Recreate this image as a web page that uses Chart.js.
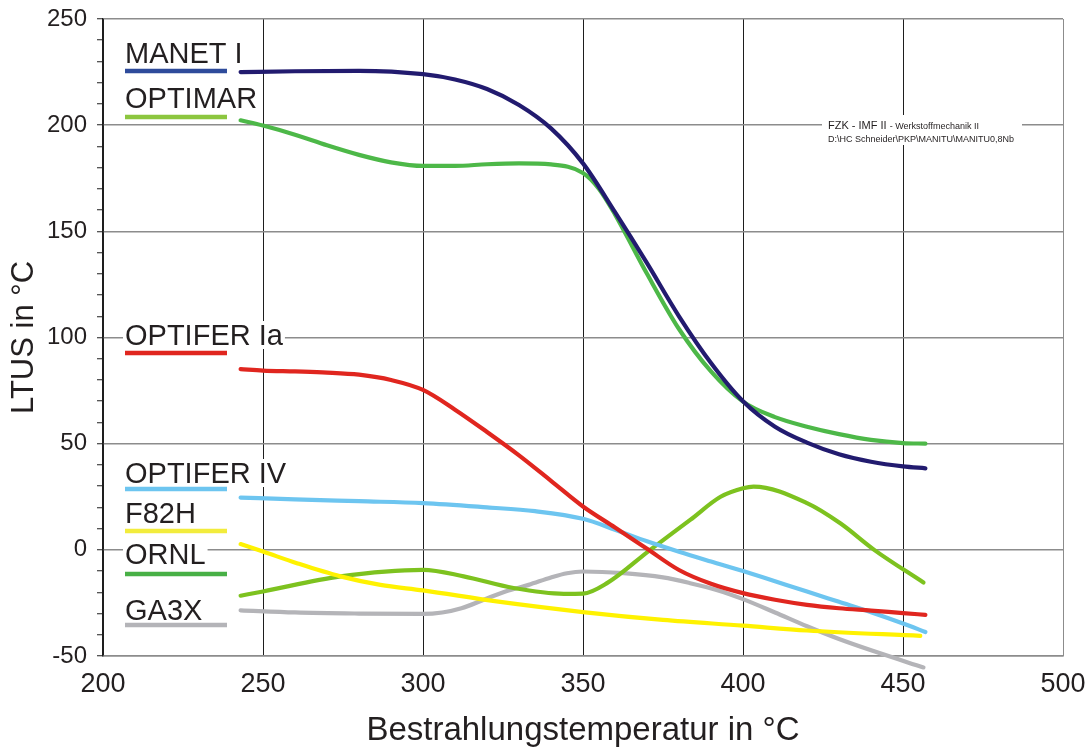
<!DOCTYPE html>
<html>
<head>
<meta charset="utf-8">
<title>LTUS</title>
<script src="https://cdn.jsdelivr.net/npm/chart.js@4.4.1/dist/chart.umd.min.js"></script>
<style>
  html, body { margin: 0; padding: 0; background: #fff; }
</style>
</head>
<body>
<canvas id="ltus" width="1090" height="752"></canvas>
<script>
// irradiation temperature (x) and LTUS (y) per material
const manetT = [243, 260, 280, 300, 310, 320, 330, 340, 350, 360, 370, 380, 390, 400, 410, 420, 430, 440, 450, 457];
const manetV = [225, 225.4, 225.6, 224, 221.5, 217, 209.5, 198.5, 182, 159, 135, 110, 88, 70, 58, 50.5, 45, 41.5, 39.3, 38.4];

const optimarT = [243, 250, 260, 270, 280, 290, 300, 310, 320, 330, 340, 350, 355, 360, 370, 380, 390, 400, 410, 420, 430, 440, 450, 457];
const optimarV = [202.3, 199.8, 195.5, 190.5, 186, 182.5, 180.8, 180.8, 181.6, 182, 181.5, 177.5, 170, 158, 130, 104, 84, 69.8, 62.5, 58, 54.5, 51.8, 50.3, 50];

const optiferIaT = [243, 250, 260, 270, 280, 290, 300, 310, 320, 330, 340, 350, 360, 370, 380, 390, 400, 410, 420, 430, 440, 450, 457];
const optiferIaV = [85.1, 84.4, 84, 83.5, 82.5, 80, 75.3, 66, 55.5, 44.5, 32.5, 20.4, 10.5, 0.5, -9.5, -16, -20.4, -23.5, -25.9, -27.5, -28.6, -29.8, -30.6];

const optiferIVT = [243, 260, 280, 300, 320, 335, 350, 360, 370, 380, 390, 400, 410, 420, 430, 440, 450, 457];
const optiferIVV = [24.6, 23.8, 22.9, 22, 20, 18.2, 14.6, 9.5, 4, -0.9, -5.5, -10, -14.8, -19.6, -24.5, -29.4, -34.7, -38.7];

const f82hT = [243, 250, 260.6, 274.2, 286.7, 300, 323, 350, 375, 400, 420, 455.4];
const f82hV = [2.7, -0.8, -6.3, -12.5, -16.5, -19.1, -24.3, -29.3, -33, -35.7, -38, -40.5];

const ornlT = [243, 250, 274.2, 300, 312.7, 328.3, 344, 350, 357.5, 371, 383.5, 393, 400, 403.3, 420, 430.4, 441, 456.4];
const ornlV = [-21.6, -19.6, -12.5, -9.4, -12.5, -18, -20.7, -20.6, -15.7, 0, 14.1, 25, 29, 29.8, 22, 12.5, 0, -15.4];

const ga3xT = [243, 260, 280, 300, 306, 312, 319, 326, 333, 340, 345, 350, 362.7, 375, 383.5, 392, 400, 410, 420, 430, 441, 456.4];
const ga3xV = [-28.5, -29.5, -30, -30.2, -29.5, -27.5, -23.5, -19.5, -16.5, -13, -11, -10.2, -11, -13, -15.7, -19, -23.2, -29.5, -36, -42, -47.8, -55.4];

const xTicks = [200, 250, 300, 350, 400, 450, 500];
const yTicks = [-50, 0, 50, 100, 150, 200, 250];

const names = ['MANET I', 'OPTIMAR', 'OPTIFER Ia', 'OPTIFER IV', 'F82H', 'ORNL', 'GA3X'];
const lineColors = ['#221b6f', '#4db848', '#e0261f', '#6dc5f0', '#fff200', '#7dc21f', '#b4b4b8'];
const keyColors  = ['#2e4b9b', '#8cc63f', '#e0261f', '#6dc5f0', '#f2ec3c', '#48b046', '#b4b4b8'];

const FONT = "'Liberation Sans', Arial, Helvetica, sans-serif";

function pts(xs, ys) {
    return xs.map(function (x, i) { return { x: x, y: ys[i] }; });
}

const series = [
    pts(manetT, manetV),
    pts(optimarT, optimarV),
    pts(optiferIaT, optiferIaV),
    pts(optiferIVT, optiferIVV),
    pts(f82hT, f82hV),
    pts(ornlT, ornlV),
    pts(ga3xT, ga3xV)
];

// key on the left: text plus a short coloured bar under it
const keyRows = [
    { base: 63, bar: 71 },
    { base: 108, bar: 117 },
    { base: 345, bar: 353 },
    { base: 483, bar: 489 },
    { base: 523, bar: 531 },
    { base: 564, bar: 574 },
    { base: 620, bar: 625 }
];

const keyPlugin = {
    id: 'materialKey',
    afterDatasetsDraw(chart) {
        const ctx = chart.ctx;
        ctx.save();
        ctx.font = '29px ' + FONT;
        ctx.textBaseline = 'alphabetic';
        names.forEach(function (name, i) {
            const row = keyRows[i];
            const w = ctx.measureText(name).width;
            ctx.fillStyle = '#fff';
            ctx.fillRect(123, row.base - 24, w + 4, 28);
            ctx.fillStyle = '#231f20';
            ctx.fillText(name, 125, row.base);
            ctx.strokeStyle = keyColors[i];
            ctx.lineWidth = 4.5;
            ctx.lineCap = 'butt';
            ctx.beginPath();
            ctx.moveTo(125, row.bar);
            ctx.lineTo(227, row.bar);
            ctx.stroke();
        });

        // file stamp top right
        ctx.fillStyle = '#fff';
        ctx.fillRect(822, 115, 200, 30);
        ctx.fillStyle = '#231f20';
        ctx.font = '11px ' + FONT;
        ctx.fillText('FZK - IMF II', 828, 129);
        const w1 = ctx.measureText('FZK - IMF II ').width;
        ctx.font = '9px ' + FONT;
        ctx.fillText('- Werkstoffmechanik II', 828 + w1, 129);
        ctx.fillText('D:\\HC Schneider\\PKP\\MANITU\\MANITU0,8Nb', 828, 142);
        ctx.restore();
    }
};

new Chart(document.getElementById('ltus'), {
    type: 'line',
    data: {
        datasets: series.map(function (data, i) {
            return {
                label: names[i],
                data: data,
                borderColor: lineColors[i],
                borderWidth: 4.2,
                pointRadius: 0,
                fill: false,
                cubicInterpolationMode: 'monotone',
                borderCapStyle: 'round',
                borderJoinStyle: 'round',
                clip: false
            };
        })
    },
    options: {
        responsive: false,
        animation: false,
        events: [],
        layout: { padding: { left: 0, right: 27, top: 19, bottom: 0 } },
        plugins: {
            legend: { display: false },
            tooltip: { enabled: false }
        },
        scales: {
            x: {
                type: 'linear',
                min: 200,
                max: 500,
                afterBuildTicks: function (scale) {
                    scale.ticks = xTicks.map(function (v) { return { value: v }; });
                },
                afterFit: function (scale) {
                    scale.height = 96;
                    scale.paddingLeft = 0;
                    scale.paddingRight = 0;
                },
                ticks: {
                    color: '#231f20',
                    font: { family: FONT, size: 27 },
                    padding: 12,
                    maxRotation: 0
                },
                grid: {
                    drawTicks: false,
                    lineWidth: 1,
                    color: function (c) { return c.tick && c.tick.value === 500 ? '#8c8c8c' : '#1e1e1e'; }
                },
                border: { color: '#8c8c8c', width: 1.5 },
                title: {
                    display: true,
                    text: 'Bestrahlungstemperatur in °C',
                    color: '#231f20',
                    font: { family: FONT, size: 33 },
                    padding: { top: 0, bottom: 1 }
                }
            },
            y: {
                type: 'linear',
                min: -50,
                max: 250,
                afterBuildTicks: function (scale) {
                    const t = [];
                    for (let v = -50; v <= 250; v += 10) t.push({ value: v });
                    scale.ticks = t;
                },
                afterFit: function (scale) {
                    scale.width = 103;
                    scale.paddingTop = 0;
                    scale.paddingBottom = 0;
                },
                ticks: {
                    autoSkip: false,
                    color: '#231f20',
                    font: { family: FONT, size: 24 },
                    padding: 10,
                    callback: function (v) { return yTicks.indexOf(v) >= 0 ? String(v) : ''; }
                },
                grid: {
                    tickLength: 6,
                    lineWidth: 1.5,
                    tickWidth: 1,
                    tickColor: '#1e1e1e',
                    color: function (c) {
                        return c.tick && yTicks.indexOf(c.tick.value) >= 0 ? '#8c8c8c' : 'rgba(0,0,0,0)';
                    }
                },
                border: { color: '#1e1e1e', width: 1.5 },
                title: {
                    display: true,
                    text: 'LTUS in °C',
                    color: '#231f20',
                    font: { family: FONT, size: 31 },
                    padding: { top: 6, bottom: 0 }
                }
            }
        }
    },
    plugins: [keyPlugin]
});
</script>
</body>
</html>
